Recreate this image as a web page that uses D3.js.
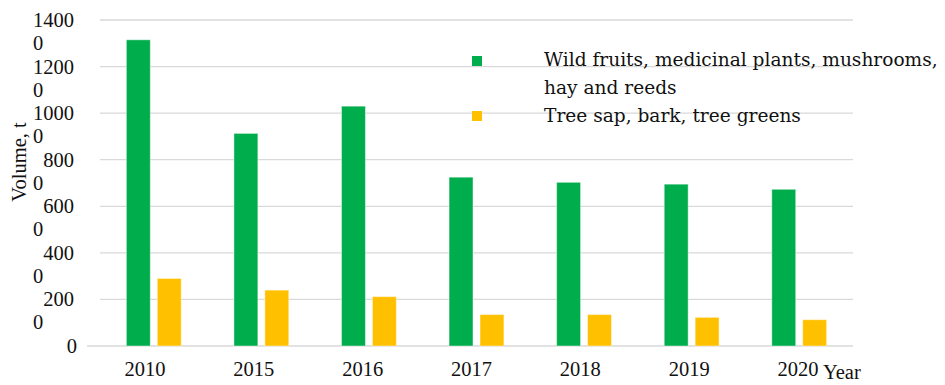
<!DOCTYPE html>
<html>
<head>
<meta charset="utf-8">
<script src="https://cdn.jsdelivr.net/npm/d3@7"></script>
<style>
  body { margin: 0; background: #fff; }
  text { font-family: "Liberation Serif", "Times New Roman", serif; fill: #111; }
</style>
</head>
<body>
<svg id="chart" width="945" height="385"></svg>
<script>
// chart data
var years = ["2010", "2015", "2016", "2017", "2018", "2019", "2020"]
var seriesNames = ["Wild fruits, medicinal plants, mushrooms, hay and reeds", "Tree sap, bark, tree greens"]
var wildFruits = [13150, 9130, 10300, 7250, 7030, 6950, 6730]
var treeSap = [2900, 2400, 2120, 1350, 1350, 1230, 1130]
var yTicks = [0, 2000, 4000, 6000, 8000, 10000, 12000, 14000]
var colors = ["#00ad4c", "#ffc000"]

function drawChart() {
    var svg = d3.select("#chart")
    var left = 100, right = 853, top = 20, bottom = 346

    var y = d3.scaleLinear().domain([0, 14000]).range([bottom, top])
    var x0 = d3.scaleBand().domain(years).range([left, right]).paddingInner(0.49).paddingOuter(0.245)
    var x1 = d3.scaleBand().domain([0, 1]).range([0, x0.bandwidth()]).paddingInner(0.226)
    var xLabel = d3.scalePoint().domain(years).range([145, 798])

    // gridlines
    svg.append("g").attr("class", "grid")
        .selectAll("line")
        .data(yTicks)
        .enter().append("line")
        .attr("x1", function (d) { return d === 0 ? 87 : left })
        .attr("x2", right)
        .attr("y1", function (d) { return y(d) })
        .attr("y2", function (d) { return y(d) })
        .attr("stroke", "#d9d9d9")
        .attr("stroke-width", 1.3)

    // y tick labels, wrapped like the original ("1400" / "0")
    var ylab = svg.append("g").attr("font-size", 20.5)
    yTicks.forEach(function (v) {
        var s = String(v)
        if (s.length === 1) {
            ylab.append("text").attr("x", 77).attr("y", y(v) + 7).attr("text-anchor", "end").text(s)
        } else {
            ylab.append("text").attr("x", 74).attr("y", y(v) + 7).attr("text-anchor", "end").text(s.slice(0, -1))
            ylab.append("text").attr("x", 33).attr("y", y(v) + 30).attr("text-anchor", "start").text(s.slice(-1))
        }
    })

    // bars
    var groups = svg.append("g").selectAll("g")
        .data(years)
        .enter().append("g")
        .attr("transform", function (d) { return "translate(" + x0(d) + ",0)" })

    groups.selectAll("rect")
        .data(function (d, i) { return [wildFruits[i], treeSap[i]] })
        .enter().append("rect")
        .attr("x", function (d, i) { return x1(i) })
        .attr("width", x1.bandwidth())
        .attr("y", function (d) { return y(d) })
        .attr("height", function (d) { return bottom - y(d) })
        .attr("fill", function (d, i) { return colors[i] })
        .attr("stroke", "rgba(255,255,255,0.45)")
        .attr("stroke-width", 1)

    // x labels
    svg.append("g").attr("font-size", 20.5)
        .selectAll("text")
        .data(years)
        .enter().append("text")
        .attr("x", function (d) { return xLabel(d) })
        .attr("y", 376)
        .attr("text-anchor", "middle")
        .text(function (d) { return d })

    svg.append("text").attr("x", 823).attr("y", 379).attr("font-size", 20.5).text("Year")

    // y title
    svg.append("text")
        .attr("transform", "translate(26,162) rotate(-90)")
        .attr("text-anchor", "middle")
        .attr("font-size", 20.5)
        .text("Volume, t")

    // legend
    var legend = svg.append("g").attr("font-size", 19.5)
    legend.append("rect").attr("x", 472).attr("y", 56).attr("width", 10).attr("height", 10).attr("fill", colors[0])
    legend.append("rect").attr("x", 472).attr("y", 111).attr("width", 10).attr("height", 10).attr("fill", colors[1])
    var l1 = legend.append("text").attr("x", 544).attr("y", 66).style("font-family", "'DejaVu Serif', serif").text("Wild fruits, medicinal plants, mushrooms,")
    legend.append("text").attr("x", 544).attr("y", 94).style("font-family", "'DejaVu Serif', serif").text("hay and reeds")
    legend.append("text").attr("x", 544).attr("y", 122).style("font-family", "'DejaVu Serif', serif").text(seriesNames[1])
    // fit the first legend line to the width it has in the original
    var w = l1.node().getComputedTextLength()
    legend.attr("font-size", 19.5 * 394 / w)
}

drawChart()
</script>
</body>
</html>
